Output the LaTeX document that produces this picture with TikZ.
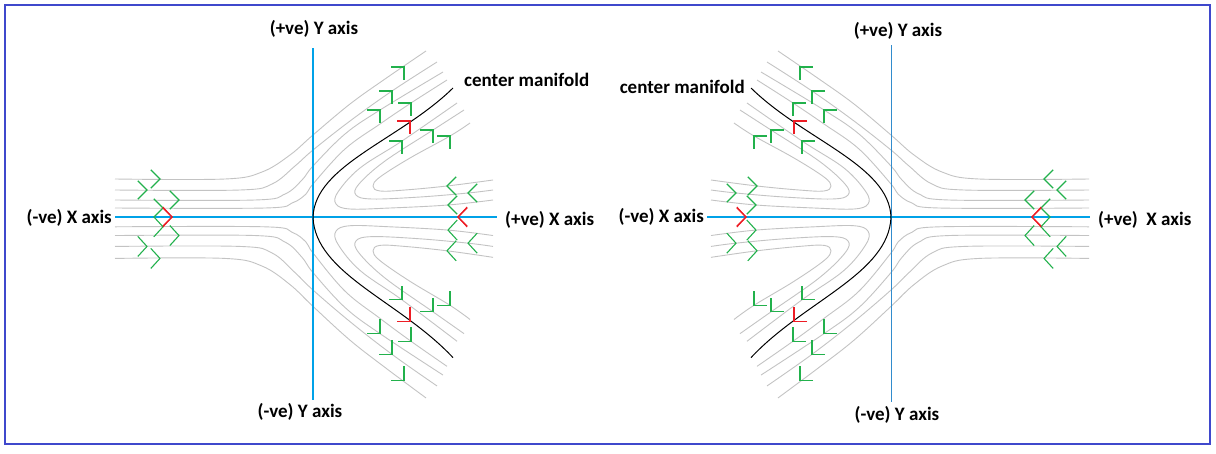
\documentclass[tikz,border=0pt]{standalone}
\usepackage{fontspec}
\setmainfont{Carlito}
\usepackage{xcolor}
\usepackage{tikz}
\usetikzlibrary{positioning}

\definecolor{axiscyan}{RGB}{0,162,232}
\definecolor{axisblue}{RGB}{50,140,205}
\definecolor{flowgreen}{RGB}{34,177,76}
\definecolor{flowred}{RGB}{237,28,36}
\definecolor{flowgrey}{RGB}{195,195,195}
\definecolor{frameblue}{RGB}{63,72,204}

\tikzset{
  stream/.style={flowgrey, line width=0.9pt},
  axisline/.style={axiscyan, line width=1.2pt},
  manifold/.style={black, line width=1pt},
  chevron/.style={line width=1.1pt},
  axislabel/.style={font=\fontsize{19}{22}\selectfont\bfseries, inner sep=0pt},
  lowerhalf/.style={shift={(0,217)}, yscale=-1.09, shift={(0,-217)}},
  mirrored/.style={xshift=1204pt, xscale=-1},
}

\def\chevlen{13pt}
% open arrow head: tip, direction
\newcommand{\chev}[3][flowgreen]{%
  \draw[chevron,#1] (#2) ++(#3+135:\chevlen) -- (#2) -- ++(#3-135:\chevlen);}

%% grey flow lines of one half (above the X axis)
\newcommand{\streamhalf}{%
  % outer lines, left of the manifold
  \draw[stream] plot[smooth, tension=0.6] coordinates {(115,179) (225,179) (262,172) (290,155) (313,135) (350,104) (385,79) (426,51)};
  \draw[stream] plot[smooth, tension=0.6] coordinates {(115,190) (240,190) (272,184) (295,166) (313,150) (350,121) (392,91) (437,62)};
  \draw[stream] plot[smooth, tension=0.6] coordinates {(115,200) (255,200) (285,194) (302,180) (313,166) (345,134) (380,110) (443,72)};
  \draw[stream] plot[smooth, tension=0.6] coordinates {(115,208) (265,208) (292,203) (306,194) (313,184) (345,149) (380,124) (411,103) (447,80)};
  % hairpins, right of the manifold
  \draw[stream] plot[smooth, tension=0.6] coordinates {(493,200) (448,205) (390,208) (350,209) (336,204) (338,192) (360,168) (402,141) (457,103)};
  \draw[stream] plot[smooth, tension=0.6] coordinates {(493,190) (468,193) (420,197) (372,199) (356,195) (359,184) (385,161) (433,130) (464,110)};
  \draw[stream] plot[smooth, tension=0.6] coordinates {(493,180) (447,186) (405,190) (380,191) (373,186) (380,177) (410,158) (450,136) (470,123)};
}

%% manifold branch and arrow heads of one half
\newcommand{\arrowhalf}{%
  \draw[manifold] (313,217) .. controls (315,165) and (400,140) .. (453,88);
  \chev{160,179}{0} \chev{147,190}{0} \chev{179,200}{0} \chev{163,208}{0}
  \chev{404,67}{45} \chev{392,91}{45} \chev{380,110}{45} \chev{411,103}{45}
  \chev{402,141}{45} \chev{433,130}{45} \chev{450,136}{45}
  \chev{447,186}{180} \chev{468,193}{180} \chev{448,205}{180}
  \chev[flowred]{410,121}{45}
  \chev[flowred]{172,217}{0}
  \chev[flowred]{458,217}{180}
}

\begin{document}
\begin{tikzpicture}[x=1pt, y=-1pt]

\useasboundingbox (0,0) rectangle (1216,453);
\draw[frameblue, line width=1.2pt] (5,5) rectangle (1210,444);

%% flow lines (left panel, right panel = mirror image)
\streamhalf
\begin{scope}[lowerhalf] \streamhalf \end{scope}
\begin{scope}[mirrored]
  \streamhalf
  \begin{scope}[lowerhalf] \streamhalf \end{scope}
\end{scope}

%% Axes
\draw[axisline] (313,48) -- (313,400);
\draw[axisline] (115,217) -- (497,217);
\draw[axisline, axisblue, line width=1pt] (891,45) -- (891,402);
\draw[axisline] (707,217) -- (1090,217);

%% center manifold and arrows
\arrowhalf
\begin{scope}[lowerhalf] \arrowhalf \end{scope}
\begin{scope}[mirrored]
  \arrowhalf
  \begin{scope}[lowerhalf] \arrowhalf \end{scope}
\end{scope}

%% Labels, left panel
\node[axislabel] (lypos) at (314,29) {(+ve) Y axis};
\node[axislabel] (lyneg) at (300,412) {(-ve) Y axis};
\node[axislabel, anchor=east] (lxneg) at (112,218) {(-ve) X axis};
\node[axislabel, anchor=west] (lxpos) at (505,220) {(+ve) X axis};
\node[axislabel, anchor=west] (lman) at (464,80) {center manifold};

%% Labels, right panel
\node[axislabel] (rypos) at (898,31) {(+ve) Y axis};
\node[axislabel] (ryneg) at (897,415) {(-ve) Y axis};
\node[axislabel, anchor=east] (rxneg) at (704,217) {(-ve) X axis};
\node[axislabel, anchor=west] (rxpos) at (1098,220) {(+ve)\ \ X axis};
\node[axislabel, anchor=east] (rman) at (745,87) {center manifold};

\end{tikzpicture}
\end{document}
